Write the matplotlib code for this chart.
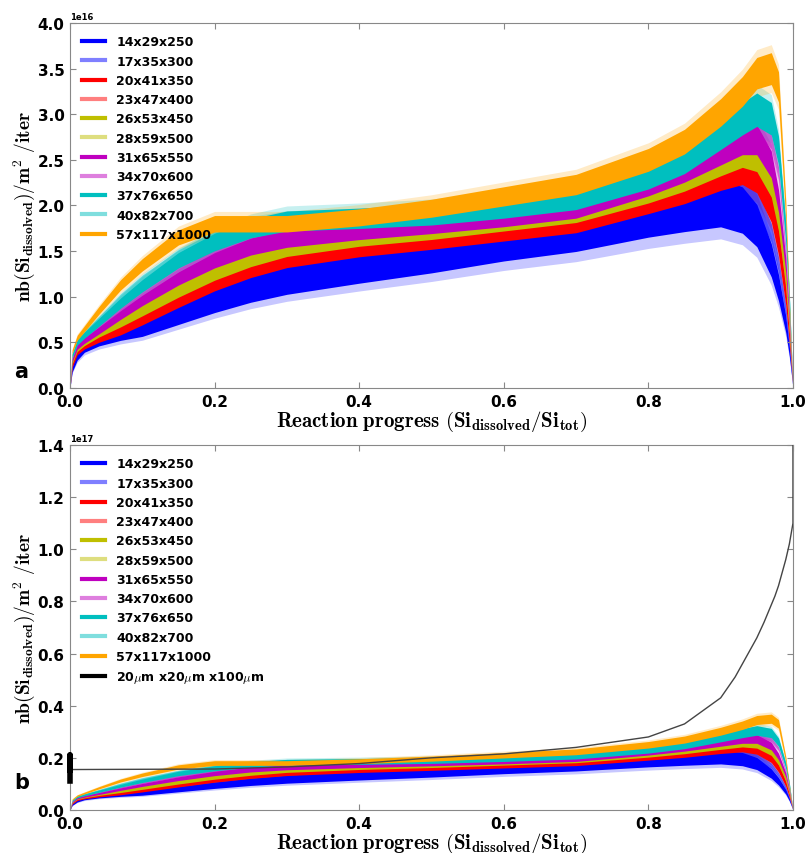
import numpy as np
import matplotlib
matplotlib.use('Agg')
import matplotlib.pyplot as plt

plt.rcParams['mathtext.fontset'] = 'cm'
plt.rcParams['font.weight'] = 'bold'

# reaction progress grid (units of 1e16)
xp = [0, 0.003, 0.01, 0.02, 0.04, 0.07, 0.1, 0.15, 0.2, 0.25, 0.3, 0.4, 0.5,
      0.6, 0.7, 0.8, 0.85, 0.9, 0.93, 0.95, 0.97, 0.98, 0.99, 0.995, 1.0]

s14 = [0, 0.2, 0.35, 0.45, 0.53, 0.6, 0.65, 0.8, 0.95, 1.08, 1.18, 1.32, 1.45,
       1.6, 1.72, 1.9, 1.97, 2.03, 1.95, 1.78, 1.4, 1.1, 0.7, 0.4, 0]
s17 = [0, 0.22, 0.37, 0.46, 0.54, 0.62, 0.7, 0.88, 1.05, 1.2, 1.31, 1.45, 1.56,
       1.68, 1.8, 2.0, 2.1, 2.2, 2.2, 2.06, 1.7, 1.35, 0.85, 0.48, 0]
s20 = [0, 0.25, 0.4, 0.47, 0.55, 0.64, 0.76, 0.97, 1.17, 1.33, 1.45, 1.58, 1.67,
       1.77, 1.87, 2.1, 2.22, 2.38, 2.45, 2.35, 2.0, 1.6, 1.0, 0.55, 0]
s23 = [0, 0.26, 0.41, 0.48, 0.57, 0.68, 0.8, 1.02, 1.22, 1.38, 1.5, 1.62, 1.71,
       1.81, 1.91, 2.14, 2.27, 2.44, 2.52, 2.45, 2.12, 1.72, 1.1, 0.6, 0]
s26 = [0, 0.28, 0.43, 0.5, 0.6, 0.72, 0.85, 1.07, 1.27, 1.43, 1.55, 1.67, 1.75,
       1.85, 1.95, 2.18, 2.32, 2.5, 2.6, 2.55, 2.25, 1.85, 1.2, 0.65, 0]
s28 = [0, 0.29, 0.44, 0.51, 0.62, 0.76, 0.9, 1.13, 1.33, 1.49, 1.6, 1.7, 1.78,
       1.87, 1.97, 2.21, 2.36, 2.55, 2.66, 2.64, 2.35, 1.95, 1.28, 0.7, 0]
s31 = [0, 0.3, 0.45, 0.52, 0.63, 0.8, 0.96, 1.2, 1.4, 1.55, 1.64, 1.73, 1.8,
       1.88, 1.98, 2.24, 2.4, 2.6, 2.72, 2.72, 2.45, 2.05, 1.35, 0.75, 0]
s34 = [0, 0.32, 0.47, 0.55, 0.67, 0.86, 1.04, 1.3, 1.5, 1.65, 1.74, 1.8, 1.85,
       1.93, 2.03, 2.28, 2.45, 2.7, 2.85, 2.9, 2.7, 2.35, 1.5, 0.85, 0]
s37 = [0, 0.35, 0.5, 0.58, 0.72, 0.93, 1.12, 1.4, 1.6, 1.75, 1.83, 1.86, 1.9,
       1.98, 2.08, 2.32, 2.5, 2.78, 2.95, 3.05, 2.95, 2.6, 1.7, 0.95, 0]
s40 = [0, 0.36, 0.52, 0.6, 0.76, 1.0, 1.2, 1.47, 1.67, 1.8, 1.86, 1.88, 1.92,
       2.0, 2.1, 2.35, 2.53, 2.8, 2.98, 3.08, 3.0, 2.65, 1.75, 1.0, 0]
s57 = [0, 0.4, 0.55, 0.65, 0.85, 1.13, 1.35, 1.65, 1.8, 1.8, 1.8, 1.87, 1.97,
       2.1, 2.23, 2.5, 2.7, 3.02, 3.25, 3.45, 3.5, 3.3, 1.95, 0.9, 0]

labels = ['14x29x250', '17x35x300', '20x41x350', '23x47x400', '26x53x450',
          '28x59x500', '31x65x550', '34x70x600', '37x76x650', '40x82x700',
          '57x117x1000']
series = [s14, s17, s20, s23, s26, s28, s31, s34, s37, s40, s57]
# relative scatter of each noisy curve
scatter = [0.13, 0.06, 0.09, 0.045, 0.07, 0.035, 0.06, 0.03, 0.06, 0.03, 0.05]

# 20um x 20um x 100um reference curve (units of 1e17)
xb = [0, 0, 0, 0.2, 0.3, 0.4, 0.5, 0.6, 0.7, 0.8, 0.85, 0.9, 0.92, 0.95,
      0.96, 0.975, 0.98, 0.99, 0.995, 1.0, 1.0]
yb = [0.11, 0.21, 0.155, 0.157, 0.165, 0.178, 0.2, 0.215, 0.24, 0.28, 0.33,
      0.43, 0.51, 0.66, 0.72, 0.82, 0.86, 0.96, 1.02, 1.1, 1.5]

colors = [(0, 0, 1, 1), (0, 0, 1, .5), (1, 0, 0, 1), (1, 0, 0, .5),
          (.75, .75, 0, 1), (.75, .75, 0, .5), (.75, 0, .75, 1), (.75, 0, .75, .5),
          (0, .75, .75, 1), (0, .75, .75, .5), (1, .647, 0, 1)]

fig = plt.figure(figsize=(8.08, 8.54), dpi=100)
ax1 = fig.add_axes([0.0866, 0.5445, 0.8948, 0.4274])
ax2 = fig.add_axes([0.0866, 0.0504, 0.8948, 0.4274])

xarr = np.array(xp)
for ax in (ax1, ax2):
    # faint outer scatter first, then the dense part of each curve
    for s, r, c in zip(series, scatter, colors):
        y = np.array(s) * 1e16
        ax.fill_between(xarr, y * (1 - 1.5 * r), y * (1 + 1.5 * r),
                        color=c[:3], alpha=0.22, lw=0)
    for s, r, c, lab in zip(series, scatter, colors, labels):
        y = np.array(s) * 1e16
        ax.fill_between(xarr, y * (1 - r), y * (1 + r), color=c, lw=0)
        ax.plot([], [], color=c, lw=3, label=lab)

ax2.plot(xb[2:], np.array(yb[2:]) * 1e17, color='#444444', lw=1.0, zorder=5)
ax2.plot(xb[:3], np.array(yb[:3]) * 1e17, color='k', lw=4, clip_on=False,
         zorder=6)
ax2.plot([], [], color='k', lw=3, label=r'20$\mu$m x20$\mu$m x100$\mu$m')

ax1.set_ylim(0, 4e16)
ax2.set_ylim(0, 1.4e17)
ax1.set_yticks(np.arange(0, 4.01e16, 0.5e16))
ax2.set_yticks(np.arange(0, 1.41e17, 0.2e17))

xlab = r'$\mathbf{Reaction\ progress\ (Si_{dissolved}/Si_{tot})}$'
ylab = r'$\mathbf{nb(Si_{dissolved})/m^2\ /iter}$'

for ax in (ax1, ax2):
    ax.set_xlim(0, 1)
    ax.set_xticks([0, 0.2, 0.4, 0.6, 0.8, 1.0])
    ax.tick_params(direction='in', top=True, right=True, length=4,
                   color='#888888', labelsize=11, pad=4)
    for lab in ax.get_xticklabels() + ax.get_yticklabels():
        lab.set_fontweight('bold')
    for sp in ax.spines.values():
        sp.set_color('#888888')
    ax.set_xlabel(xlab, fontsize=15, labelpad=0)
    ax.set_ylabel(ylab, fontsize=14)
    ax.yaxis.set_label_coords(-0.045, 0.5)
    ax.yaxis.get_offset_text().set_fontsize(6)
    leg = ax.legend(loc='upper left', frameon=False, fontsize=9,
                    handlelength=1.8, handletextpad=0.9, labelspacing=0.5,
                    borderaxespad=0.6)
    for t in leg.get_texts():
        t.set_fontweight('bold')

fig.text(0.018, 1 - 372 / 854, 'a', fontsize=15, fontweight='bold',
         va='center')
fig.text(0.018, 1 - 783 / 854, 'b', fontsize=15, fontweight='bold',
         va='center')

fig.savefig('out.png', dpi=100)
